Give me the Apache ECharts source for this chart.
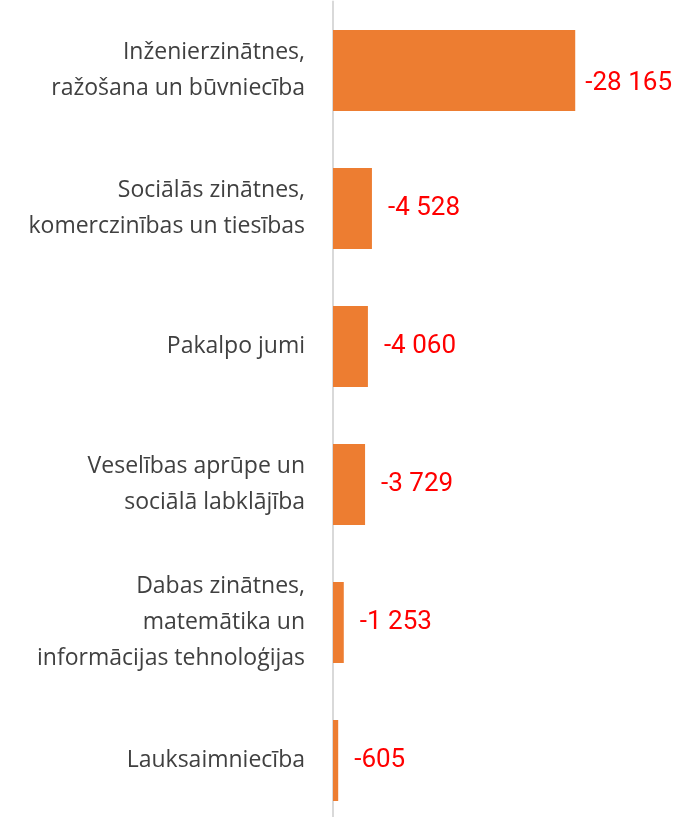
<!DOCTYPE html>
<html>
<head>
<meta charset="utf-8">
<script src="https://cdn.jsdelivr.net/npm/echarts@6/dist/echarts.min.js"></script>
<style>
  html, body { margin: 0; padding: 0; background: #fff; }
  #chart { width: 674px; height: 817px; }
</style>
</head>
<body>
<div id="chart"></div>
<script>
// nozares, no augšas uz leju
var categories = [
    'Inženierzinātnes,\nražošana un būvniecība',
    'Sociālās zinātnes,\nkomerczinības un tiesības',
    'Pakalpo jumi',
    'Veselības aprūpe un\nsociālā labklājība',
    'Dabas zinātnes,\nmatemātika un\ninformācijas tehnoloģijas',
    'Lauksaimniecība'
];
var values = [-28165, -4528, -4060, -3729, -1253, -605];

(function () {
    'use strict'

    var fmt = function (v) {
        var s = String(Math.abs(v)).replace(/\B(?=(\d{3})+(?!\d))/g, ' ');
        return (v < 0 ? '-' : '') + s;
    };

    // stabiņi zīmēti pa labi (absolūtā vērtība), etiķete ar mīnusu
    var barData = values.map(function (v) {
        return { value: Math.abs(v), orig: v };
    });

    var myChart = echarts.init(document.getElementById('chart'));
    var option = {
        animation: false,
        grid: { left: 333, top: 1.5, width: 344, height: 828, outerBoundsMode: 'none' },
        xAxis: {
            type: 'value',
            min: 0,
            max: 40000,
            show: false
        },
        yAxis: {
            type: 'category',
            inverse: true,
            data: categories,
            axisLine: { show: true, lineStyle: { color: '#d9d9d9', width: 2 } },
            axisTick: { show: false },
            axisLabel: {
                margin: 28,
                color: '#404040',
                fontFamily: 'Open Sans',
                fontSize: 23,
                lineHeight: 36,
                align: 'right'
            }
        },
        series: [{
            type: 'bar',
            data: barData,
            barWidth: 81,
            itemStyle: { color: '#ed7d31' },
            label: {
                show: true,
                position: 'right',
                distance: 16,
                color: '#ff0000',
                fontFamily: 'Roboto',
                fontSize: 26,
                formatter: function (p) { return fmt(p.data.orig); }
            },
            // lai garākā etiķete nepazūd aiz malas
            labelLayout: function (params) {
                var r = params.labelRect;
                if (r.x + r.width > 672) {
                    return { x: 672 - r.width };
                }
                return {};
            }
        }]
    };
    myChart.setOption(option);
})();
</script>
</body>
</html>
